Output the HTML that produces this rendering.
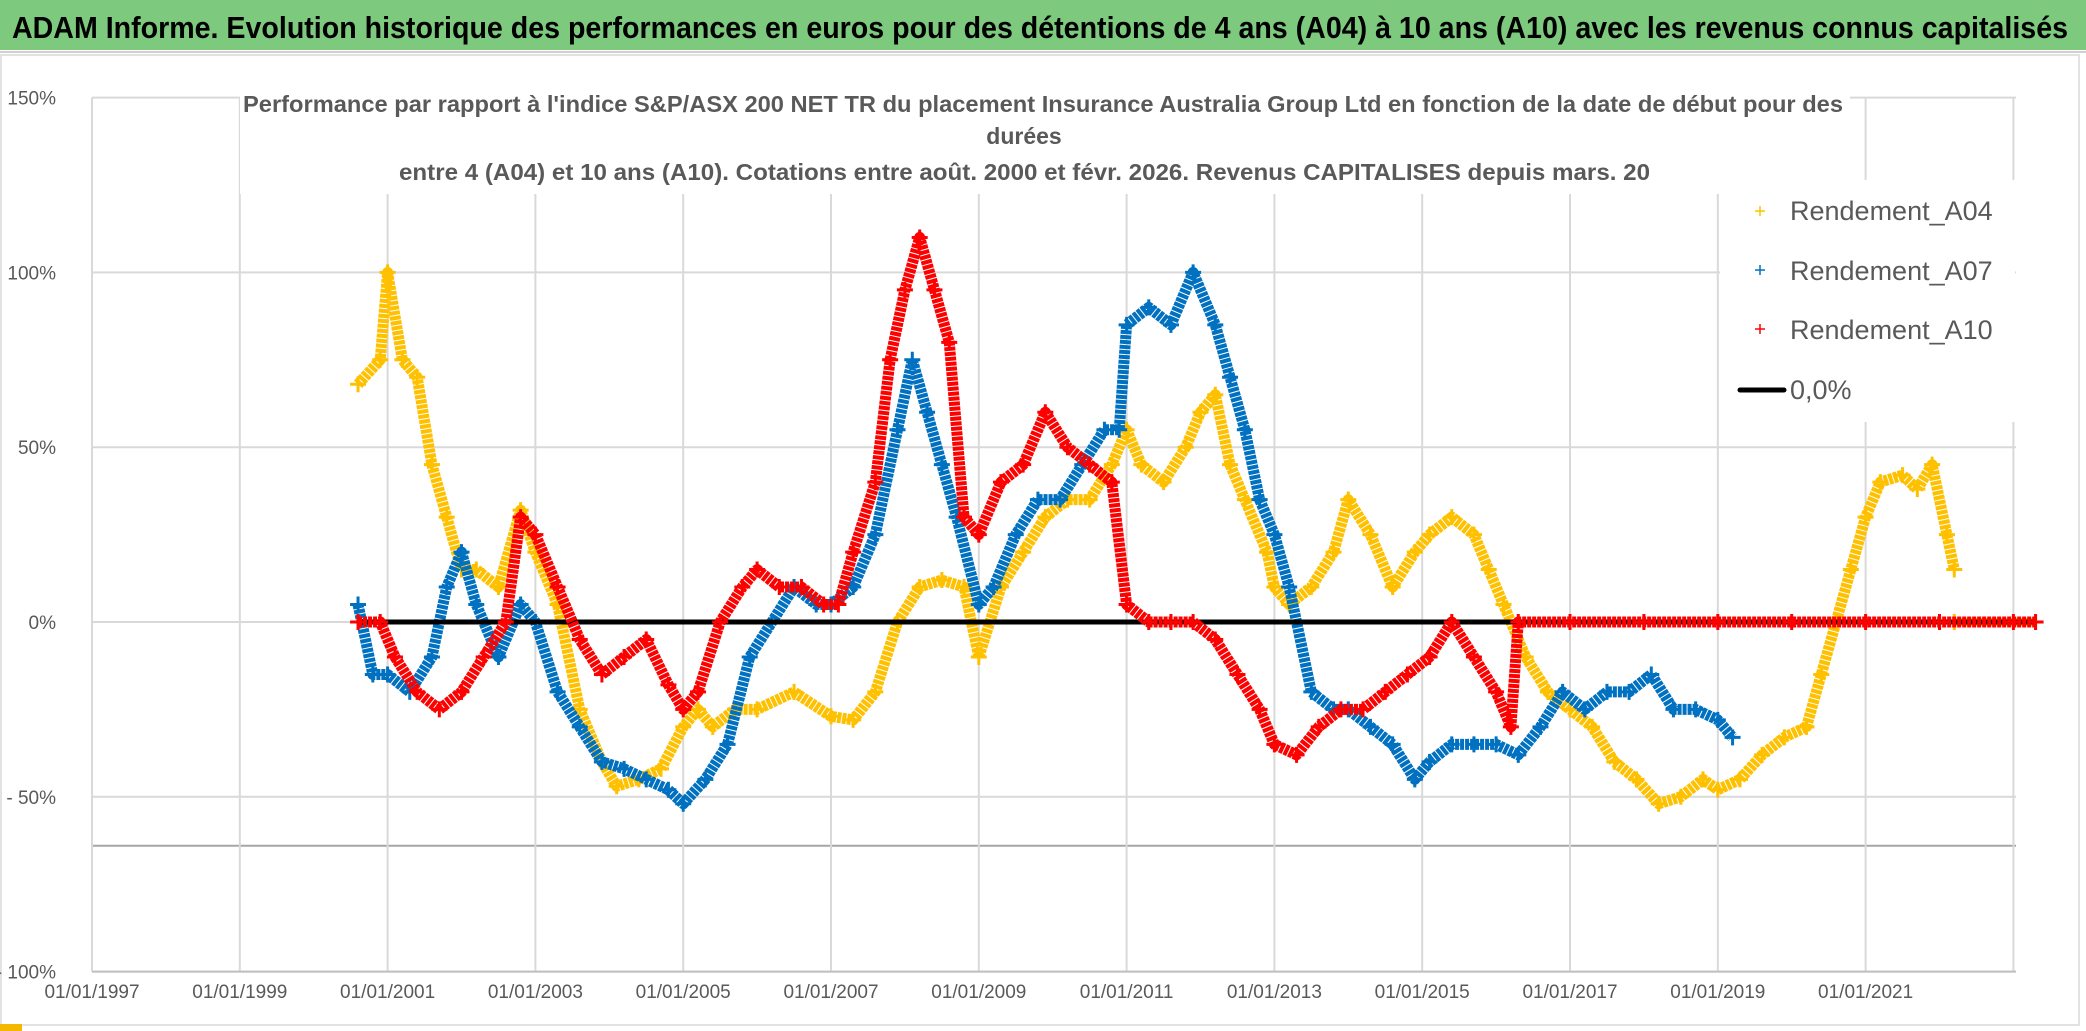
<!DOCTYPE html>
<html><head><meta charset="utf-8"><style>
html,body{margin:0;padding:0;background:#fff;}
svg{display:block;}
</style></head><body>
<svg id="chart" width="2086" height="1031" viewBox="0 0 2086 1031" xmlns="http://www.w3.org/2000/svg" font-family="Liberation Sans, sans-serif">
<rect x="0" y="0" width="2086" height="1031" fill="#fff"/>
<rect x="0" y="0" width="2086" height="50" fill="#7dc97d"/>
<line x1="0" y1="52" x2="2086" y2="52" stroke="#d0d0d0" stroke-width="2"/>
<text x="12" y="38" font-size="31" font-weight="bold" fill="#000" textLength="2056" lengthAdjust="spacingAndGlyphs">ADAM Informe. Evolution historique des performances en euros pour des détentions de 4 ans (A04) à 10 ans (A10) avec les revenus connus capitalisés</text>
<rect x="1" y="55" width="2078" height="970" fill="none" stroke="#d9d9d9" stroke-width="1.5"/>
<rect x="0" y="1024" width="22" height="7" fill="#f5b800"/>
<g id="grid"></g>
<g id="marks"></g>
<rect x="240" y="82" width="1610" height="112" fill="#fff"/>
<text x="243" y="112" font-size="23" font-weight="bold" fill="#595959" textLength="1600" lengthAdjust="spacingAndGlyphs">Performance par rapport à l'indice S&amp;P/ASX 200 NET TR  du placement Insurance Australia Group Ltd en fonction de la date de début pour des</text>
<text x="1024" y="144" font-size="23" font-weight="bold" fill="#595959" text-anchor="middle">durées</text>
<text x="399" y="180" font-size="23" font-weight="bold" fill="#595959" textLength="1251" lengthAdjust="spacingAndGlyphs">entre 4 (A04) et 10 ans (A10). Cotations entre août. 2000 et févr. 2026. Revenus CAPITALISES depuis mars. 20</text>
<g id="legend">
<rect x="1720" y="180" width="295" height="242" fill="#fff"/>
<g><path d="M1755 211h10M1760 206v10" stroke="#ffc000" stroke-width="1.5"/><text x="1790" y="220" font-size="27" fill="#595959">Rendement_A04</text></g>
<g><path d="M1755 270h10M1760 265v10" stroke="#0070c0" stroke-width="1.5"/><text x="1790" y="280" font-size="27" fill="#595959">Rendement_A07</text></g>
<g><path d="M1755 329h10M1760 324v10" stroke="#ff0000" stroke-width="1.5"/><text x="1790" y="339" font-size="27" fill="#595959">Rendement_A10</text></g>
<g><line x1="1740" y1="390" x2="1784" y2="390" stroke="#000" stroke-width="5" stroke-linecap="round"/><text x="1790" y="399" font-size="27" fill="#595959">0,0%</text></g>
</g>
<g id="axes"></g>
</svg>
<script>
const yTicks=[150,100,50,0,-50,-100];
const yTickLabels=["150%","100%","50%","0%","- 50%","- 100%"];
const xTicks=[1997,1999,2001,2003,2005,2007,2009,2011,2013,2015,2017,2019,2021,2023];
const xTickLabels=["01/01/1997","01/01/1999","01/01/2001","01/01/2003","01/01/2005","01/01/2007","01/01/2009","01/01/2011","01/01/2013","01/01/2015","01/01/2017","01/01/2019","01/01/2021",""];
const yearsA04=[2000.6,2000.9,2001.0,2001.2,2001.4,2001.6,2001.8,2002.0,2002.2,2002.5,2002.8,2003.0,2003.3,2003.6,2003.9,2004.1,2004.4,2004.7,2005.0,2005.2,2005.4,2005.7,2006.0,2006.5,2007.0,2007.3,2007.6,2007.9,2008.2,2008.5,2008.8,2009.0,2009.3,2009.6,2009.9,2010.2,2010.5,2010.8,2011.0,2011.2,2011.5,2011.8,2012.0,2012.2,2012.4,2012.6,2012.9,2013.0,2013.2,2013.5,2013.8,2014.0,2014.3,2014.6,2014.9,2015.1,2015.4,2015.7,2015.9,2016.1,2016.4,2016.7,2017.0,2017.3,2017.6,2017.9,2018.2,2018.5,2018.8,2019.0,2019.3,2019.6,2019.9,2020.2,2020.4,2020.6,2020.8,2021.0,2021.2,2021.5,2021.7,2021.9,2022.1,2022.2];
const valuesA04=[68,75,100,75,70,45,30,15,15,10,32,20,5,-25,-40,-47,-45,-42,-30,-25,-30,-25,-25,-20,-27,-28,-20,0,10,12,10,-10,10,20,30,35,35,45,55,45,40,50,60,65,45,35,20,10,5,10,20,35,25,10,20,25,30,25,15,5,-10,-20,-25,-30,-40,-45,-52,-50,-45,-48,-45,-38,-33,-30,-15,0,15,30,40,42,38,45,25,15];
const yearsA07=[2000.6,2000.8,2001.0,2001.3,2001.6,2001.8,2002.0,2002.2,2002.5,2002.8,2003.0,2003.3,2003.6,2003.9,2004.2,2004.5,2004.8,2005.0,2005.3,2005.6,2005.9,2006.2,2006.5,2006.8,2007.0,2007.3,2007.6,2007.9,2008.1,2008.3,2008.5,2008.7,2009.0,2009.2,2009.5,2009.8,2010.1,2010.4,2010.7,2010.9,2011.0,2011.3,2011.6,2011.9,2012.2,2012.4,2012.6,2012.8,2013.0,2013.2,2013.5,2013.8,2014.0,2014.3,2014.6,2014.9,2015.1,2015.4,2015.7,2016.0,2016.3,2016.6,2016.9,2017.2,2017.5,2017.8,2018.1,2018.4,2018.7,2019.0,2019.2];
const valuesA07=[5,-15,-15,-20,-10,10,20,5,-10,5,0,-20,-30,-40,-42,-45,-48,-52,-45,-35,-10,0,10,5,5,10,25,55,75,60,45,30,5,10,25,35,35,45,55,55,85,90,85,100,85,70,55,35,25,10,-20,-25,-25,-30,-35,-45,-40,-35,-35,-35,-38,-30,-20,-25,-20,-20,-15,-25,-25,-28,-33];
const yearsA10=[2000.6,2000.9,2001.1,2001.4,2001.7,2002.0,2002.3,2002.6,2002.8,2003.0,2003.3,2003.6,2003.9,2004.2,2004.5,2004.8,2005.0,2005.2,2005.5,2005.8,2006.0,2006.3,2006.6,2006.9,2007.1,2007.3,2007.6,2007.8,2008.0,2008.2,2008.4,2008.6,2008.8,2009.0,2009.3,2009.6,2009.9,2010.2,2010.5,2010.8,2011.0,2011.3,2011.6,2011.9,2012.2,2012.5,2012.8,2013.0,2013.3,2013.6,2013.9,2014.2,2014.5,2014.8,2015.1,2015.4,2015.7,2016.0,2016.2,2016.3,2017.0,2018.0,2019.0,2020.0,2021.0,2022.0,2023.0,2023.3];
const valuesA10=[0,0,-10,-20,-25,-20,-10,0,30,25,10,-5,-15,-10,-5,-18,-25,-20,0,10,15,10,10,5,5,20,40,75,95,110,95,80,30,25,40,45,60,50,45,40,5,0,0,0,-5,-15,-25,-35,-38,-30,-25,-25,-20,-15,-10,0,-10,-20,-30,0,0,0,0,0,0,0,0,0];
const yearsA04Zero=[2022.2,2023.3];
const valuesA04Zero=[0,0];
const zeroRange=[2000.6,2023.3];

const NS="http://www.w3.org/2000/svg";
const X0=92,PXY=73.9,Y0=622,PXP=3.496;
function xs(y){return X0+(y-1997)*PXY;}
function ys(v){return Y0-v*PXP;}
function mk(tag,attrs,parent){const e=document.createElementNS(NS,tag);for(const k in attrs)e.setAttribute(k,attrs[k]);parent.appendChild(e);return e;}
const grid=document.getElementById('grid'),marks=document.getElementById('marks'),axes=document.getElementById('axes');
yTicks.forEach((t,i)=>{
  const l=mk('line',{x1:X0,x2:2016,y1:ys(t),y2:ys(t),stroke:'#d9d9d9','stroke-width':2},grid);
  
  
  const tx=mk('text',{x:56,y:ys(t)+7,'font-size':19,fill:'#595959','text-anchor':'end'},axes);
  tx.textContent=yTickLabels[i];
  
  
});
const ol=mk('line',{x1:X0,x2:2016,y1:ys(-64),y2:ys(-64),stroke:'#a6a6a6','stroke-width':2},grid);


xTicks.forEach((t,i)=>{
  const l=mk('line',{x1:xs(t),x2:xs(t),y1:ys(150),y2:ys(-100),stroke:'#d9d9d9','stroke-width':2},grid);
  
  
  if(xTickLabels[i]){
    const tx=mk('text',{x:xs(t),y:998,'font-size':19,fill:'#595959','text-anchor':'middle'},axes);
    tx.textContent=xTickLabels[i];
    
    
  }
});
const ax=mk('line',{x1:X0,x2:2016,y1:ys(-100),y2:ys(-100),stroke:'#bfbfbf','stroke-width':2},grid);


function series(yrs,vals,color,name,w){
  const g=mk('g',{},marks);
  
  
  const pts=yrs.map((y,i)=>xs(y)+','+ys(vals[i])).join(' ');
  mk('polyline',{points:pts,fill:'none',stroke:color,'stroke-width':w,'stroke-linejoin':'round','stroke-dasharray':'4 1'},g);
  yrs.forEach((y,i)=>{
    const x=xs(y),v=ys(vals[i]);
    const p=mk('path',{d:`M${x-8} ${v}h16M${x} ${v-8}v16`,stroke:color,'stroke-width':3},g);
    
    
  });
}
series(yearsA04,valuesA04,'#ffc000','series-a04',11);
series(yearsA04Zero,valuesA04Zero,'#ffc000','series-a04-zero',8);
series(yearsA07,valuesA07,'#0070c0','series-a07',11);
const z=mk('line',{x1:xs(zeroRange[0]),x2:xs(zeroRange[1]),y1:ys(0),y2:ys(0),stroke:'#000','stroke-width':5},marks);


series(yearsA10,valuesA10,'#ff0000','series-a10',11);
</script>
</body></html>
